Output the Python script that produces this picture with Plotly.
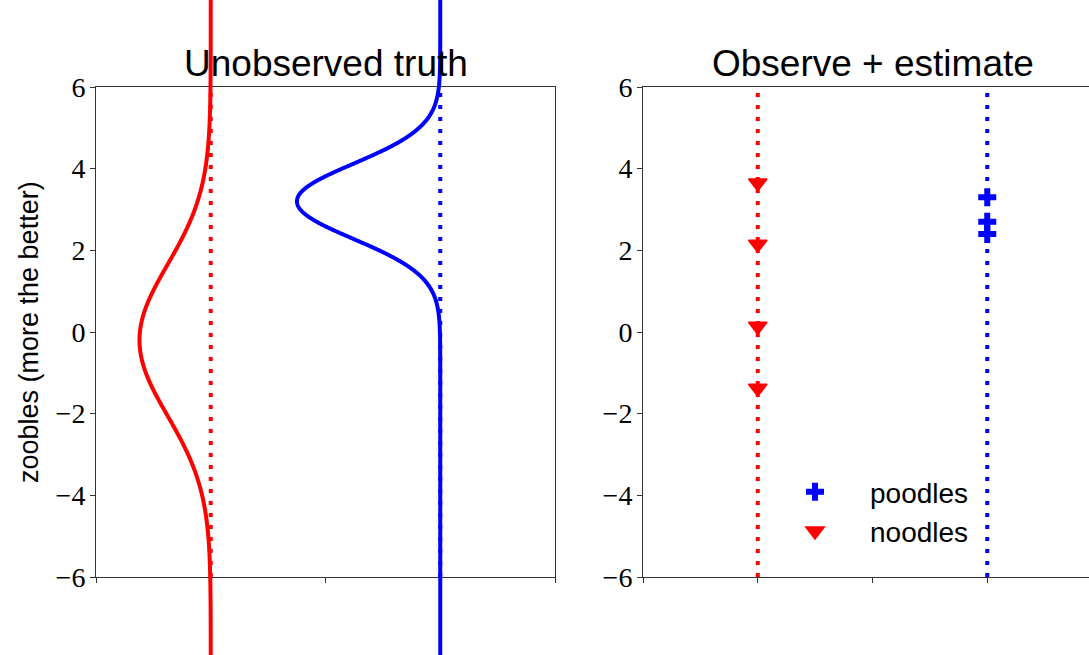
import numpy as np
import plotly.graph_objects as go

# ---------------- data ----------------
group_names = ["noodles", "poodles"]
group_x = [0.5, 1.5]                 # x position of each group
true_means = [-0.2, 3.2]             # centre of each unobserved distribution
true_sds = [1.85, 0.92]              # spread of each unobserved distribution
density_scale = 1.44                 # horizontal scale of the drawn densities
noodles_obs = [3.65, 2.15, 0.14, -1.38]
poodles_obs = [3.30, 2.70, 2.40]
y_ticks = [-6, -4, -2, 0, 2, 4, 6]
x_ticks = [0, 0.5, 1, 1.5, 2]
colors = ["#ff0000", "#0000ff"]

W, H = 1089, 655
ax_top, ax_bot = 87, 577
L_left, L_right = 96, 555
R_left = 643
ax_w = L_right - L_left
px_per_unit = (ax_bot - ax_top) / 12.0

ydom = [(H - ax_bot) / H, (H - ax_top) / H]
y_full = [-6 - (H - ax_bot) / px_per_unit, 6 + ax_top / px_per_unit]

fig = go.Figure()

# ---- left panel: unobserved truth (densities drawn on a full-height overlay axis) ----
yy = np.linspace(-8.5, 8.5, 1200)
for name, xc, m, s, c in zip(group_names, group_x, true_means, true_sds, colors):
    pdf = np.exp(-0.5 * ((yy - m) / s) ** 2) / (s * np.sqrt(2 * np.pi))
    fig.add_trace(go.Scatter(x=xc - density_scale * pdf, y=yy, mode="lines",
                             line=dict(color=c, width=4, simplify=False), showlegend=False,
                             xaxis="x3", yaxis="y3", hoverinfo="skip"))
for xc, c in zip(group_x, colors):
    fig.add_trace(go.Scatter(x=[xc, xc], y=[-6, 6], mode="lines",
                             line=dict(color=c, width=4, dash="4px,8px"),
                             showlegend=False, xaxis="x", yaxis="y"))

# ---- right panel: observe + estimate ----
for xc, c in zip(group_x, colors):
    fig.add_trace(go.Scatter(x=[xc, xc], y=[-6, 6], mode="lines",
                             line=dict(color=c, width=4, dash="4px,8px"),
                             showlegend=False, xaxis="x2", yaxis="y2"))
fig.add_trace(go.Scatter(x=[group_x[1]] * len(poodles_obs), y=poodles_obs, mode="markers",
                         marker=dict(symbol="cross", size=15, color=colors[1]),
                         name="poodles", xaxis="x2", yaxis="y2"))
fig.add_trace(go.Scatter(x=[group_x[0]] * len(noodles_obs), y=noodles_obs, mode="markers",
                         marker=dict(symbol="triangle-down", size=16, color=colors[0],
                                     line=dict(color=colors[0], width=1.5)),
                         name="noodles", xaxis="x2", yaxis="y2"))

tick_font = dict(family="Liberation Serif", size=28, color="black")
sans = "Liberation Sans"

common_x = dict(showgrid=False, zeroline=False, showline=True, linecolor="#333", linewidth=1,
                mirror=True, ticks="outside", ticklen=5, tickcolor="#333",
                tickvals=x_ticks, showticklabels=False, automargin=False)
common_y = dict(showgrid=False, zeroline=False, showline=True, linecolor="#333", linewidth=1,
                ticks="outside", ticklen=5, tickcolor="#333", tickvals=y_ticks,
                range=[-6, 6], tickfont=tick_font, ticklabelstandoff=-1, domain=ydom,
                automargin=False)

fig.update_layout(
    width=W, height=H, autosize=False,
    margin=dict(l=0, r=0, t=0, b=0, pad=0, autoexpand=False),
    paper_bgcolor="white", plot_bgcolor="rgba(0,0,0,0)",
    xaxis=dict(common_x, domain=[L_left / W, L_right / W], range=[0, 2]),
    yaxis=dict(common_y, mirror=True),
    xaxis2=dict(common_x, domain=[R_left / W, 1.0], range=[0, 2 * (W - R_left) / ax_w]),
    yaxis2=dict(common_y, mirror=False),
    xaxis3=dict(domain=[L_left / W, L_right / W], range=[0, 2], visible=False,
                anchor="y3", automargin=False),
    yaxis3=dict(domain=[0, 1], range=y_full, visible=False, anchor="x3", automargin=False),
    legend=dict(x=760 / W, y=1 - 467 / H, xanchor="left", yanchor="top",
                itemwidth=100, font=dict(family=sans, size=28, color="black"),
                bgcolor="rgba(0,0,0,0)"),
    showlegend=True,
)
fig.layout.xaxis2.anchor = "y2"
fig.layout.yaxis2.anchor = "x2"

fig.add_annotation(text="Unobserved truth", x=(L_left + L_right) / 2 / W, y=1 - 63 / H,
                   xref="paper", yref="paper", showarrow=False, xanchor="center", yanchor="middle",
                   font=dict(family=sans, size=37, color="black"))
fig.add_annotation(text="Observe + estimate", x=(R_left + R_left + ax_w) / 2 / W, y=1 - 63 / H,
                   xref="paper", yref="paper", showarrow=False, xanchor="center", yanchor="middle",
                   font=dict(family=sans, size=37, color="black"))
fig.add_annotation(text="zoobles (more the better)", x=29 / W, y=1 - 332 / H,
                   xref="paper", yref="paper", showarrow=False, textangle=-90,
                   xanchor="center", yanchor="middle",
                   font=dict(family=sans, size=27, color="black"))

fig.write_html("out.html", config={"responsive": False, "displayModeBar": False},
               post_script="document.body.style.margin='0px';")
